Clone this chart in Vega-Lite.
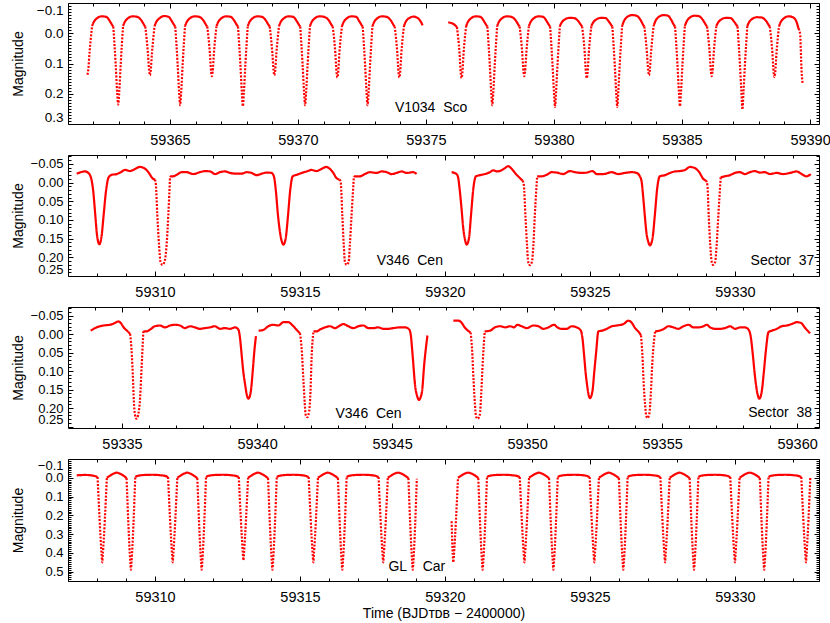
{
"$schema":"https://vega.github.io/schema/vega-lite/v6.json",
"padding":{"left":10,"top":2,"right":5,"bottom":0},
"autosize":{"type":"pad"},
"bounds":"flush",
"spacing":31,
"config":{
 "view":{"stroke":"#000","strokeWidth":1},
 "axis":{"domain":false,"grid":false,"tickColor":"#000","tickWidth":1,"labelColor":"#000","labelFont":"Liberation Sans","labelFontSize":14,"titleFont":"Liberation Sans, DejaVu Sans","titleFontSize":14,"titleFontWeight":"normal","titleColor":"#000","labelOverlap":false,"labelBound":false,"labelFlush":false},
 "axisBottom":{"labelPadding":14,"labelFontSize":14.5},
 "axisLeft":{"labelPadding":10},
 "axisTop":{"labels":false},
 "axisRight":{"labels":false}
},
"datasets":{
"p1":[
{"t":59361.78,"m":0.137,"g":1,"k":"e"},{"t":59361.81,"m":0.122,"g":1,"k":"e"},{"t":59361.86,"m":0.065,"g":1,"k":"e"},{"t":59361.96,"m":-0.024,"g":1,"k":"e"},
{"t":59361.96,"m":-0.024,"g":2,"k":"o"},{"t":59362.02,"m":-0.036,"g":2,"k":"o"},{"t":59362.16,"m":-0.05,"g":2,"k":"o"},{"t":59362.34,"m":-0.056,"g":2,"k":"o"},{"t":59362.52,"m":-0.054,"g":2,"k":"o"},{"t":59362.64,"m":-0.042,"g":2,"k":"o"},{"t":59362.74,"m":-0.028,"g":2,"k":"o"},{"t":59362.79,"m":-0.022,"g":2,"k":"o"},
{"t":59362.79,"m":-0.022,"g":3,"k":"e"},{"t":59362.88,"m":0.1,"g":3,"k":"e"},{"t":59362.94,"m":0.195,"g":3,"k":"e"},{"t":59362.98,"m":0.236,"g":3,"k":"e"},{"t":59363.02,"m":0.195,"g":3,"k":"e"},{"t":59363.08,"m":0.1,"g":3,"k":"e"},{"t":59363.17,"m":-0.024,"g":3,"k":"e"},
{"t":59363.17,"m":-0.024,"g":4,"k":"o"},{"t":59363.23,"m":-0.036,"g":4,"k":"o"},{"t":59363.37,"m":-0.05,"g":4,"k":"o"},{"t":59363.55,"m":-0.056,"g":4,"k":"o"},{"t":59363.73,"m":-0.054,"g":4,"k":"o"},{"t":59363.89,"m":-0.042,"g":4,"k":"o"},{"t":59363.99,"m":-0.028,"g":4,"k":"o"},{"t":59364.04,"m":-0.022,"g":4,"k":"o"},
{"t":59364.04,"m":-0.022,"g":5,"k":"e"},{"t":59364.14,"m":0.065,"g":5,"k":"e"},{"t":59364.19,"m":0.124,"g":5,"k":"e"},{"t":59364.22,"m":0.139,"g":5,"k":"e"},{"t":59364.25,"m":0.124,"g":5,"k":"e"},{"t":59364.3,"m":0.065,"g":5,"k":"e"},{"t":59364.4,"m":-0.024,"g":5,"k":"e"},
{"t":59364.4,"m":-0.024,"g":6,"k":"o"},{"t":59364.46,"m":-0.036,"g":6,"k":"o"},{"t":59364.6,"m":-0.05,"g":6,"k":"o"},{"t":59364.78,"m":-0.057,"g":6,"k":"o"},{"t":59364.96,"m":-0.054,"g":6,"k":"o"},{"t":59365.06,"m":-0.042,"g":6,"k":"o"},{"t":59365.16,"m":-0.028,"g":6,"k":"o"},{"t":59365.21,"m":-0.022,"g":6,"k":"o"},
{"t":59365.21,"m":-0.022,"g":7,"k":"e"},{"t":59365.3,"m":0.1,"g":7,"k":"e"},{"t":59365.36,"m":0.195,"g":7,"k":"e"},{"t":59365.4,"m":0.238,"g":7,"k":"e"},{"t":59365.44,"m":0.195,"g":7,"k":"e"},{"t":59365.5,"m":0.1,"g":7,"k":"e"},{"t":59365.59,"m":-0.024,"g":7,"k":"e"},
{"t":59365.59,"m":-0.024,"g":8,"k":"o"},{"t":59365.65,"m":-0.036,"g":8,"k":"o"},{"t":59365.79,"m":-0.05,"g":8,"k":"o"},{"t":59365.97,"m":-0.056,"g":8,"k":"o"},{"t":59366.15,"m":-0.054,"g":8,"k":"o"},{"t":59366.31,"m":-0.042,"g":8,"k":"o"},{"t":59366.41,"m":-0.028,"g":8,"k":"o"},{"t":59366.46,"m":-0.022,"g":8,"k":"o"},
{"t":59366.46,"m":-0.022,"g":9,"k":"e"},{"t":59366.56,"m":0.065,"g":9,"k":"e"},{"t":59366.61,"m":0.127,"g":9,"k":"e"},{"t":59366.64,"m":0.142,"g":9,"k":"e"},{"t":59366.67,"m":0.127,"g":9,"k":"e"},{"t":59366.72,"m":0.065,"g":9,"k":"e"},{"t":59366.82,"m":-0.024,"g":9,"k":"e"},
{"t":59366.82,"m":-0.024,"g":10,"k":"o"},{"t":59366.88,"m":-0.036,"g":10,"k":"o"},{"t":59367.02,"m":-0.05,"g":10,"k":"o"},{"t":59367.2,"m":-0.056,"g":10,"k":"o"},{"t":59367.38,"m":-0.054,"g":10,"k":"o"},{"t":59367.51,"m":-0.042,"g":10,"k":"o"},{"t":59367.61,"m":-0.028,"g":10,"k":"o"},{"t":59367.66,"m":-0.022,"g":10,"k":"o"},
{"t":59367.66,"m":-0.022,"g":11,"k":"e"},{"t":59367.75,"m":0.1,"g":11,"k":"e"},{"t":59367.81,"m":0.195,"g":11,"k":"e"},{"t":59367.85,"m":0.241,"g":11,"k":"e"},{"t":59367.89,"m":0.195,"g":11,"k":"e"},{"t":59367.95,"m":0.1,"g":11,"k":"e"},{"t":59368.04,"m":-0.024,"g":11,"k":"e"},
{"t":59368.04,"m":-0.024,"g":12,"k":"o"},{"t":59368.1,"m":-0.036,"g":12,"k":"o"},{"t":59368.24,"m":-0.05,"g":12,"k":"o"},{"t":59368.42,"m":-0.056,"g":12,"k":"o"},{"t":59368.6,"m":-0.054,"g":12,"k":"o"},{"t":59368.75,"m":-0.042,"g":12,"k":"o"},{"t":59368.85,"m":-0.028,"g":12,"k":"o"},{"t":59368.9,"m":-0.022,"g":12,"k":"o"},
{"t":59368.9,"m":-0.022,"g":13,"k":"e"},{"t":59369.0,"m":0.065,"g":13,"k":"e"},{"t":59369.05,"m":0.124,"g":13,"k":"e"},{"t":59369.08,"m":0.139,"g":13,"k":"e"},{"t":59369.11,"m":0.124,"g":13,"k":"e"},{"t":59369.16,"m":0.065,"g":13,"k":"e"},{"t":59369.26,"m":-0.024,"g":13,"k":"e"},
{"t":59369.26,"m":-0.024,"g":14,"k":"o"},{"t":59369.32,"m":-0.036,"g":14,"k":"o"},{"t":59369.46,"m":-0.05,"g":14,"k":"o"},{"t":59369.64,"m":-0.056,"g":14,"k":"o"},{"t":59369.82,"m":-0.054,"g":14,"k":"o"},{"t":59369.94,"m":-0.042,"g":14,"k":"o"},{"t":59370.04,"m":-0.028,"g":14,"k":"o"},{"t":59370.09,"m":-0.022,"g":14,"k":"o"},
{"t":59370.09,"m":-0.022,"g":15,"k":"e"},{"t":59370.18,"m":0.1,"g":15,"k":"e"},{"t":59370.24,"m":0.195,"g":15,"k":"e"},{"t":59370.28,"m":0.238,"g":15,"k":"e"},{"t":59370.32,"m":0.195,"g":15,"k":"e"},{"t":59370.38,"m":0.1,"g":15,"k":"e"},{"t":59370.47,"m":-0.024,"g":15,"k":"e"},
{"t":59370.47,"m":-0.024,"g":16,"k":"o"},{"t":59370.53,"m":-0.036,"g":16,"k":"o"},{"t":59370.67,"m":-0.05,"g":16,"k":"o"},{"t":59370.85,"m":-0.056,"g":16,"k":"o"},{"t":59371.03,"m":-0.054,"g":16,"k":"o"},{"t":59371.21,"m":-0.042,"g":16,"k":"o"},{"t":59371.31,"m":-0.028,"g":16,"k":"o"},{"t":59371.36,"m":-0.022,"g":16,"k":"o"},
{"t":59371.36,"m":-0.022,"g":17,"k":"e"},{"t":59371.46,"m":0.065,"g":17,"k":"e"},{"t":59371.51,"m":0.131,"g":17,"k":"e"},{"t":59371.54,"m":0.146,"g":17,"k":"e"},{"t":59371.57,"m":0.131,"g":17,"k":"e"},{"t":59371.62,"m":0.065,"g":17,"k":"e"},{"t":59371.72,"m":-0.024,"g":17,"k":"e"},
{"t":59371.72,"m":-0.024,"g":18,"k":"o"},{"t":59371.78,"m":-0.036,"g":18,"k":"o"},{"t":59371.92,"m":-0.05,"g":18,"k":"o"},{"t":59372.1,"m":-0.056,"g":18,"k":"o"},{"t":59372.28,"m":-0.054,"g":18,"k":"o"},{"t":59372.38,"m":-0.042,"g":18,"k":"o"},{"t":59372.48,"m":-0.028,"g":18,"k":"o"},{"t":59372.53,"m":-0.022,"g":18,"k":"o"},
{"t":59372.53,"m":-0.022,"g":19,"k":"e"},{"t":59372.62,"m":0.1,"g":19,"k":"e"},{"t":59372.68,"m":0.195,"g":19,"k":"e"},{"t":59372.72,"m":0.238,"g":19,"k":"e"},{"t":59372.76,"m":0.195,"g":19,"k":"e"},{"t":59372.82,"m":0.1,"g":19,"k":"e"},{"t":59372.91,"m":-0.024,"g":19,"k":"e"},
{"t":59372.91,"m":-0.024,"g":20,"k":"o"},{"t":59372.97,"m":-0.036,"g":20,"k":"o"},{"t":59373.11,"m":-0.05,"g":20,"k":"o"},{"t":59373.29,"m":-0.056,"g":20,"k":"o"},{"t":59373.47,"m":-0.054,"g":20,"k":"o"},{"t":59373.63,"m":-0.042,"g":20,"k":"o"},{"t":59373.73,"m":-0.028,"g":20,"k":"o"},{"t":59373.78,"m":-0.022,"g":20,"k":"o"},
{"t":59373.78,"m":-0.022,"g":21,"k":"e"},{"t":59373.88,"m":0.065,"g":21,"k":"e"},{"t":59373.93,"m":0.131,"g":21,"k":"e"},{"t":59373.96,"m":0.146,"g":21,"k":"e"},{"t":59373.99,"m":0.131,"g":21,"k":"e"},{"t":59374.04,"m":0.065,"g":21,"k":"e"},{"t":59374.14,"m":-0.024,"g":21,"k":"e"},
{"t":59374.14,"m":-0.024,"g":22,"k":"o"},{"t":59374.2,"m":-0.036,"g":22,"k":"o"},{"t":59374.34,"m":-0.05,"g":22,"k":"o"},{"t":59374.52,"m":-0.055,"g":22,"k":"o"},{"t":59374.68,"m":-0.05,"g":22,"k":"o"},{"t":59374.8,"m":-0.038,"g":22,"k":"o"},{"t":59374.87,"m":-0.026,"g":22,"k":"o"},
{"t":59375.87,"m":-0.036,"g":23,"k":"o"},{"t":59375.98,"m":-0.034,"g":23,"k":"o"},{"t":59376.1,"m":-0.029,"g":23,"k":"o"},{"t":59376.21,"m":-0.02,"g":23,"k":"o"},
{"t":59376.21,"m":-0.02,"g":24,"k":"e"},{"t":59376.31,"m":0.065,"g":24,"k":"e"},{"t":59376.36,"m":0.133,"g":24,"k":"e"},{"t":59376.39,"m":0.148,"g":24,"k":"e"},{"t":59376.42,"m":0.133,"g":24,"k":"e"},{"t":59376.47,"m":0.065,"g":24,"k":"e"},{"t":59376.57,"m":-0.024,"g":24,"k":"e"},
{"t":59376.57,"m":-0.024,"g":25,"k":"o"},{"t":59376.63,"m":-0.036,"g":25,"k":"o"},{"t":59376.77,"m":-0.05,"g":25,"k":"o"},{"t":59376.95,"m":-0.056,"g":25,"k":"o"},{"t":59377.13,"m":-0.054,"g":25,"k":"o"},{"t":59377.25,"m":-0.042,"g":25,"k":"o"},{"t":59377.35,"m":-0.028,"g":25,"k":"o"},{"t":59377.4,"m":-0.022,"g":25,"k":"o"},
{"t":59377.4,"m":-0.022,"g":26,"k":"e"},{"t":59377.49,"m":0.1,"g":26,"k":"e"},{"t":59377.55,"m":0.195,"g":26,"k":"e"},{"t":59377.59,"m":0.238,"g":26,"k":"e"},{"t":59377.63,"m":0.195,"g":26,"k":"e"},{"t":59377.69,"m":0.1,"g":26,"k":"e"},{"t":59377.78,"m":-0.024,"g":26,"k":"e"},
{"t":59377.78,"m":-0.024,"g":27,"k":"o"},{"t":59377.84,"m":-0.036,"g":27,"k":"o"},{"t":59377.98,"m":-0.05,"g":27,"k":"o"},{"t":59378.16,"m":-0.056,"g":27,"k":"o"},{"t":59378.34,"m":-0.054,"g":27,"k":"o"},{"t":59378.51,"m":-0.042,"g":27,"k":"o"},{"t":59378.61,"m":-0.028,"g":27,"k":"o"},{"t":59378.66,"m":-0.022,"g":27,"k":"o"},
{"t":59378.66,"m":-0.022,"g":28,"k":"e"},{"t":59378.76,"m":0.065,"g":28,"k":"e"},{"t":59378.81,"m":0.127,"g":28,"k":"e"},{"t":59378.84,"m":0.142,"g":28,"k":"e"},{"t":59378.87,"m":0.127,"g":28,"k":"e"},{"t":59378.92,"m":0.065,"g":28,"k":"e"},{"t":59379.02,"m":-0.024,"g":28,"k":"e"},
{"t":59379.02,"m":-0.024,"g":29,"k":"o"},{"t":59379.08,"m":-0.036,"g":29,"k":"o"},{"t":59379.22,"m":-0.05,"g":29,"k":"o"},{"t":59379.4,"m":-0.056,"g":29,"k":"o"},{"t":59379.58,"m":-0.054,"g":29,"k":"o"},{"t":59379.7,"m":-0.042,"g":29,"k":"o"},{"t":59379.8,"m":-0.028,"g":29,"k":"o"},{"t":59379.85,"m":-0.022,"g":29,"k":"o"},
{"t":59379.85,"m":-0.022,"g":30,"k":"e"},{"t":59379.94,"m":0.1,"g":30,"k":"e"},{"t":59380.0,"m":0.195,"g":30,"k":"e"},{"t":59380.04,"m":0.244,"g":30,"k":"e"},{"t":59380.08,"m":0.195,"g":30,"k":"e"},{"t":59380.14,"m":0.1,"g":30,"k":"e"},{"t":59380.23,"m":-0.024,"g":30,"k":"e"},
{"t":59380.23,"m":-0.024,"g":31,"k":"o"},{"t":59380.29,"m":-0.034,"g":31,"k":"o"},{"t":59380.43,"m":-0.046,"g":31,"k":"o"},{"t":59380.61,"m":-0.051,"g":31,"k":"o"},{"t":59380.79,"m":-0.05,"g":31,"k":"o"},{"t":59380.95,"m":-0.04,"g":31,"k":"o"},{"t":59381.05,"m":-0.028,"g":31,"k":"o"},{"t":59381.1,"m":-0.022,"g":31,"k":"o"},
{"t":59381.1,"m":-0.022,"g":32,"k":"e"},{"t":59381.2,"m":0.065,"g":32,"k":"e"},{"t":59381.25,"m":0.133,"g":32,"k":"e"},{"t":59381.28,"m":0.148,"g":32,"k":"e"},{"t":59381.31,"m":0.133,"g":32,"k":"e"},{"t":59381.36,"m":0.065,"g":32,"k":"e"},{"t":59381.46,"m":-0.024,"g":32,"k":"e"},
{"t":59381.46,"m":-0.024,"g":33,"k":"o"},{"t":59381.52,"m":-0.034,"g":33,"k":"o"},{"t":59381.66,"m":-0.046,"g":33,"k":"o"},{"t":59381.84,"m":-0.051,"g":33,"k":"o"},{"t":59382.02,"m":-0.05,"g":33,"k":"o"},{"t":59382.13,"m":-0.04,"g":33,"k":"o"},{"t":59382.23,"m":-0.028,"g":33,"k":"o"},{"t":59382.28,"m":-0.022,"g":33,"k":"o"},
{"t":59382.28,"m":-0.022,"g":34,"k":"e"},{"t":59382.37,"m":0.1,"g":34,"k":"e"},{"t":59382.43,"m":0.195,"g":34,"k":"e"},{"t":59382.47,"m":0.244,"g":34,"k":"e"},{"t":59382.51,"m":0.195,"g":34,"k":"e"},{"t":59382.57,"m":0.1,"g":34,"k":"e"},{"t":59382.66,"m":-0.024,"g":34,"k":"e"},
{"t":59382.66,"m":-0.024,"g":35,"k":"o"},{"t":59382.72,"m":-0.038,"g":35,"k":"o"},{"t":59382.86,"m":-0.054,"g":35,"k":"o"},{"t":59383.04,"m":-0.06,"g":35,"k":"o"},{"t":59383.22,"m":-0.058,"g":35,"k":"o"},{"t":59383.38,"m":-0.044,"g":35,"k":"o"},{"t":59383.48,"m":-0.028,"g":35,"k":"o"},{"t":59383.53,"m":-0.022,"g":35,"k":"o"},
{"t":59383.53,"m":-0.022,"g":36,"k":"e"},{"t":59383.63,"m":0.065,"g":36,"k":"e"},{"t":59383.68,"m":0.124,"g":36,"k":"e"},{"t":59383.71,"m":0.139,"g":36,"k":"e"},{"t":59383.74,"m":0.124,"g":36,"k":"e"},{"t":59383.79,"m":0.065,"g":36,"k":"e"},{"t":59383.89,"m":-0.024,"g":36,"k":"e"},
{"t":59383.89,"m":-0.024,"g":37,"k":"o"},{"t":59383.95,"m":-0.038,"g":37,"k":"o"},{"t":59384.09,"m":-0.054,"g":37,"k":"o"},{"t":59384.27,"m":-0.06,"g":37,"k":"o"},{"t":59384.45,"m":-0.058,"g":37,"k":"o"},{"t":59384.58,"m":-0.044,"g":37,"k":"o"},{"t":59384.68,"m":-0.028,"g":37,"k":"o"},{"t":59384.73,"m":-0.022,"g":37,"k":"o"},
{"t":59384.73,"m":-0.022,"g":38,"k":"e"},{"t":59384.82,"m":0.1,"g":38,"k":"e"},{"t":59384.88,"m":0.195,"g":38,"k":"e"},{"t":59384.92,"m":0.241,"g":38,"k":"e"},{"t":59384.96,"m":0.195,"g":38,"k":"e"},{"t":59385.02,"m":0.1,"g":38,"k":"e"},{"t":59385.11,"m":-0.024,"g":38,"k":"e"},
{"t":59385.11,"m":-0.024,"g":39,"k":"o"},{"t":59385.17,"m":-0.037,"g":39,"k":"o"},{"t":59385.31,"m":-0.052,"g":39,"k":"o"},{"t":59385.49,"m":-0.058,"g":39,"k":"o"},{"t":59385.67,"m":-0.056,"g":39,"k":"o"},{"t":59385.83,"m":-0.042,"g":39,"k":"o"},{"t":59385.93,"m":-0.028,"g":39,"k":"o"},{"t":59385.98,"m":-0.022,"g":39,"k":"o"},
{"t":59385.98,"m":-0.022,"g":40,"k":"e"},{"t":59386.08,"m":0.065,"g":40,"k":"e"},{"t":59386.13,"m":0.127,"g":40,"k":"e"},{"t":59386.16,"m":0.142,"g":40,"k":"e"},{"t":59386.19,"m":0.127,"g":40,"k":"e"},{"t":59386.24,"m":0.065,"g":40,"k":"e"},{"t":59386.34,"m":-0.024,"g":40,"k":"e"},
{"t":59386.34,"m":-0.024,"g":41,"k":"o"},{"t":59386.4,"m":-0.034,"g":41,"k":"o"},{"t":59386.54,"m":-0.046,"g":41,"k":"o"},{"t":59386.72,"m":-0.051,"g":41,"k":"o"},{"t":59386.9,"m":-0.05,"g":41,"k":"o"},{"t":59387.02,"m":-0.04,"g":41,"k":"o"},{"t":59387.12,"m":-0.028,"g":41,"k":"o"},{"t":59387.17,"m":-0.022,"g":41,"k":"o"},
{"t":59387.17,"m":-0.022,"g":42,"k":"e"},{"t":59387.26,"m":0.1,"g":42,"k":"e"},{"t":59387.32,"m":0.195,"g":42,"k":"e"},{"t":59387.36,"m":0.252,"g":42,"k":"e"},{"t":59387.4,"m":0.195,"g":42,"k":"e"},{"t":59387.46,"m":0.1,"g":42,"k":"e"},{"t":59387.55,"m":-0.024,"g":42,"k":"e"},
{"t":59387.55,"m":-0.024,"g":43,"k":"o"},{"t":59387.61,"m":-0.035,"g":43,"k":"o"},{"t":59387.75,"m":-0.048,"g":43,"k":"o"},{"t":59387.93,"m":-0.053,"g":43,"k":"o"},{"t":59388.11,"m":-0.052,"g":43,"k":"o"},{"t":59388.28,"m":-0.041,"g":43,"k":"o"},{"t":59388.38,"m":-0.028,"g":43,"k":"o"},{"t":59388.43,"m":-0.022,"g":43,"k":"o"},
{"t":59388.43,"m":-0.022,"g":44,"k":"e"},{"t":59388.53,"m":0.065,"g":44,"k":"e"},{"t":59388.58,"m":0.13,"g":44,"k":"e"},{"t":59388.61,"m":0.145,"g":44,"k":"e"},{"t":59388.64,"m":0.13,"g":44,"k":"e"},{"t":59388.69,"m":0.065,"g":44,"k":"e"},{"t":59388.79,"m":-0.024,"g":44,"k":"e"},
{"t":59388.79,"m":-0.024,"g":45,"k":"o"},{"t":59388.85,"m":-0.036,"g":45,"k":"o"},{"t":59388.99,"m":-0.05,"g":45,"k":"o"},{"t":59389.17,"m":-0.056,"g":45,"k":"o"},{"t":59389.35,"m":-0.052,"g":45,"k":"o"},{"t":59389.47,"m":-0.038,"g":45,"k":"o"},{"t":59389.55,"m":-0.015,"g":45,"k":"o"},
{"t":59389.55,"m":-0.015,"g":46,"k":"e"},{"t":59389.61,"m":0.0,"g":46,"k":"e"},{"t":59389.67,"m":0.125,"g":46,"k":"e"},{"t":59389.71,"m":0.167,"g":46,"k":"e"}
],
"p2":[
{"t":59307.3,"m":-0.024,"g":1,"k":"o"},{"t":59307.59,"m":-0.03,"g":1,"k":"o"},{"t":59307.7,"m":-0.026,"g":1,"k":"o"},{"t":59307.8,"m":-0.011,"g":1,"k":"o"},{"t":59307.87,"m":0.023,"g":1,"k":"o"},{"t":59307.94,"m":0.086,"g":1,"k":"o"},{"t":59308.0,"m":0.14,"g":1,"k":"o"},{"t":59308.08,"m":0.165,"g":1,"k":"o"},{"t":59308.16,"m":0.142,"g":1,"k":"o"},{"t":59308.23,"m":0.086,"g":1,"k":"o"},{"t":59308.31,"m":0.023,"g":1,"k":"o"},{"t":59308.4,"m":-0.014,"g":1,"k":"o"},{"t":59308.51,"m":-0.021,"g":1,"k":"o"},{"t":59308.68,"m":-0.023,"g":1,"k":"o"},{"t":59308.82,"m":-0.028,"g":1,"k":"o"},{"t":59308.97,"m":-0.034,"g":1,"k":"o"},{"t":59309.14,"m":-0.031,"g":1,"k":"o"},{"t":59309.25,"m":-0.034,"g":1,"k":"o"},{"t":59309.48,"m":-0.042,"g":1,"k":"o"},{"t":59309.66,"m":-0.037,"g":1,"k":"o"},{"t":59309.79,"m":-0.026,"g":1,"k":"o"},{"t":59309.91,"m":-0.012,"g":1,"k":"o"},{"t":59310.0,"m":-0.008,"g":1,"k":"o"},
{"t":59310.0,"m":-0.008,"g":2,"k":"e"},{"t":59310.03,"m":0.005,"g":2,"k":"e"},{"t":59310.08,"m":0.086,"g":2,"k":"e"},{"t":59310.14,"m":0.167,"g":2,"k":"e"},{"t":59310.19,"m":0.212,"g":2,"k":"e"},{"t":59310.26,"m":0.22,"g":2,"k":"e"},{"t":59310.33,"m":0.212,"g":2,"k":"e"},{"t":59310.4,"m":0.167,"g":2,"k":"e"},{"t":59310.46,"m":0.086,"g":2,"k":"e"},{"t":59310.52,"m":-0.017,"g":2,"k":"e"},
{"t":59310.52,"m":-0.017,"g":3,"k":"o"},{"t":59310.63,"m":-0.017,"g":3,"k":"o"},{"t":59310.75,"m":-0.021,"g":3,"k":"o"},{"t":59310.92,"m":-0.028,"g":3,"k":"o"},{"t":59311.09,"m":-0.028,"g":3,"k":"o"},{"t":59311.32,"m":-0.023,"g":3,"k":"o"},{"t":59311.55,"m":-0.028,"g":3,"k":"o"},{"t":59311.72,"m":-0.031,"g":3,"k":"o"},{"t":59311.9,"m":-0.03,"g":3,"k":"o"},{"t":59312.07,"m":-0.023,"g":3,"k":"o"},{"t":59312.24,"m":-0.028,"g":3,"k":"o"},{"t":59312.41,"m":-0.03,"g":3,"k":"o"},{"t":59312.59,"m":-0.026,"g":3,"k":"o"},{"t":59312.82,"m":-0.024,"g":3,"k":"o"},{"t":59312.99,"m":-0.024,"g":3,"k":"o"},{"t":59313.16,"m":-0.028,"g":3,"k":"o"},{"t":59313.33,"m":-0.026,"g":3,"k":"o"},{"t":59313.51,"m":-0.02,"g":3,"k":"o"},{"t":59313.68,"m":-0.024,"g":3,"k":"o"},{"t":59313.85,"m":-0.027,"g":3,"k":"o"},{"t":59314.02,"m":-0.026,"g":3,"k":"o"},{"t":59314.1,"m":-0.017,"g":3,"k":"o"},{"t":59314.17,"m":0.023,"g":3,"k":"o"},{"t":59314.24,"m":0.086,"g":3,"k":"o"},{"t":59314.35,"m":0.15,"g":3,"k":"o"},{"t":59314.43,"m":0.166,"g":3,"k":"o"},{"t":59314.51,"m":0.148,"g":3,"k":"o"},{"t":59314.59,"m":0.086,"g":3,"k":"o"},{"t":59314.66,"m":0.023,"g":3,"k":"o"},{"t":59314.75,"m":-0.017,"g":3,"k":"o"},{"t":59314.89,"m":-0.021,"g":3,"k":"o"},{"t":59315.06,"m":-0.026,"g":3,"k":"o"},{"t":59315.23,"m":-0.03,"g":3,"k":"o"},{"t":59315.4,"m":-0.034,"g":3,"k":"o"},{"t":59315.57,"m":-0.031,"g":3,"k":"o"},{"t":59315.75,"m":-0.037,"g":3,"k":"o"},{"t":59315.9,"m":-0.042,"g":3,"k":"o"},{"t":59316.03,"m":-0.037,"g":3,"k":"o"},{"t":59316.15,"m":-0.026,"g":3,"k":"o"},{"t":59316.24,"m":-0.014,"g":3,"k":"o"},{"t":59316.36,"m":-0.008,"g":3,"k":"o"},
{"t":59316.36,"m":-0.008,"g":4,"k":"e"},{"t":59316.4,"m":-0.004,"g":4,"k":"e"},{"t":59316.46,"m":0.086,"g":4,"k":"e"},{"t":59316.51,"m":0.167,"g":4,"k":"e"},{"t":59316.55,"m":0.212,"g":4,"k":"e"},{"t":59316.61,"m":0.22,"g":4,"k":"e"},{"t":59316.68,"m":0.212,"g":4,"k":"e"},{"t":59316.72,"m":0.167,"g":4,"k":"e"},{"t":59316.78,"m":0.086,"g":4,"k":"e"},{"t":59316.86,"m":-0.017,"g":4,"k":"e"},
{"t":59316.86,"m":-0.017,"g":5,"k":"o"},{"t":59317.07,"m":-0.017,"g":5,"k":"o"},{"t":59317.24,"m":-0.023,"g":5,"k":"o"},{"t":59317.41,"m":-0.028,"g":5,"k":"o"},{"t":59317.64,"m":-0.026,"g":5,"k":"o"},{"t":59317.82,"m":-0.03,"g":5,"k":"o"},{"t":59317.99,"m":-0.028,"g":5,"k":"o"},{"t":59318.16,"m":-0.023,"g":5,"k":"o"},{"t":59318.33,"m":-0.026,"g":5,"k":"o"},{"t":59318.51,"m":-0.03,"g":5,"k":"o"},{"t":59318.68,"m":-0.026,"g":5,"k":"o"},{"t":59318.91,"m":-0.028,"g":5,"k":"o"},{"t":59319.02,"m":-0.023,"g":5,"k":"o"},
{"t":59320.23,"m":-0.028,"g":6,"k":"o"},{"t":59320.4,"m":-0.023,"g":6,"k":"o"},{"t":59320.46,"m":-0.012,"g":6,"k":"o"},{"t":59320.49,"m":0.006,"g":6,"k":"o"},{"t":59320.57,"m":0.068,"g":6,"k":"o"},{"t":59320.63,"m":0.121,"g":6,"k":"o"},{"t":59320.69,"m":0.152,"g":6,"k":"o"},{"t":59320.75,"m":0.166,"g":6,"k":"o"},{"t":59320.83,"m":0.148,"g":6,"k":"o"},{"t":59320.9,"m":0.086,"g":6,"k":"o"},{"t":59320.98,"m":0.015,"g":6,"k":"o"},{"t":59321.07,"m":-0.017,"g":6,"k":"o"},{"t":59321.21,"m":-0.02,"g":6,"k":"o"},{"t":59321.38,"m":-0.023,"g":6,"k":"o"},{"t":59321.55,"m":-0.028,"g":6,"k":"o"},{"t":59321.67,"m":-0.033,"g":6,"k":"o"},{"t":59321.8,"m":-0.03,"g":6,"k":"o"},{"t":59321.95,"m":-0.033,"g":6,"k":"o"},{"t":59322.07,"m":-0.039,"g":6,"k":"o"},{"t":59322.18,"m":-0.044,"g":6,"k":"o"},{"t":59322.3,"m":-0.037,"g":6,"k":"o"},{"t":59322.45,"m":-0.023,"g":6,"k":"o"},{"t":59322.59,"m":-0.012,"g":6,"k":"o"},{"t":59322.68,"m":-0.005,"g":6,"k":"o"},
{"t":59322.68,"m":-0.005,"g":7,"k":"e"},{"t":59322.72,"m":0.006,"g":7,"k":"e"},{"t":59322.78,"m":0.095,"g":7,"k":"e"},{"t":59322.83,"m":0.167,"g":7,"k":"e"},{"t":59322.87,"m":0.212,"g":7,"k":"e"},{"t":59322.93,"m":0.221,"g":7,"k":"e"},{"t":59323.0,"m":0.212,"g":7,"k":"e"},{"t":59323.05,"m":0.167,"g":7,"k":"e"},{"t":59323.1,"m":0.086,"g":7,"k":"e"},{"t":59323.18,"m":-0.017,"g":7,"k":"e"},
{"t":59323.18,"m":-0.017,"g":8,"k":"o"},{"t":59323.33,"m":-0.017,"g":8,"k":"o"},{"t":59323.51,"m":-0.021,"g":8,"k":"o"},{"t":59323.68,"m":-0.028,"g":8,"k":"o"},{"t":59323.85,"m":-0.027,"g":8,"k":"o"},{"t":59324.08,"m":-0.023,"g":8,"k":"o"},{"t":59324.31,"m":-0.031,"g":8,"k":"o"},{"t":59324.48,"m":-0.028,"g":8,"k":"o"},{"t":59324.71,"m":-0.026,"g":8,"k":"o"},{"t":59324.89,"m":-0.027,"g":8,"k":"o"},{"t":59325.09,"m":-0.031,"g":8,"k":"o"},{"t":59325.23,"m":-0.023,"g":8,"k":"o"},{"t":59325.46,"m":-0.023,"g":8,"k":"o"},{"t":59325.75,"m":-0.028,"g":8,"k":"o"},{"t":59325.98,"m":-0.023,"g":8,"k":"o"},{"t":59326.21,"m":-0.026,"g":8,"k":"o"},{"t":59326.44,"m":-0.028,"g":8,"k":"o"},{"t":59326.61,"m":-0.026,"g":8,"k":"o"},{"t":59326.72,"m":-0.017,"g":8,"k":"o"},{"t":59326.78,"m":-0.004,"g":8,"k":"o"},{"t":59326.84,"m":0.041,"g":8,"k":"o"},{"t":59326.9,"m":0.095,"g":8,"k":"o"},{"t":59326.95,"m":0.135,"g":8,"k":"o"},{"t":59327.01,"m":0.158,"g":8,"k":"o"},{"t":59327.07,"m":0.168,"g":8,"k":"o"},{"t":59327.16,"m":0.148,"g":8,"k":"o"},{"t":59327.24,"m":0.086,"g":8,"k":"o"},{"t":59327.32,"m":0.015,"g":8,"k":"o"},{"t":59327.41,"m":-0.017,"g":8,"k":"o"},{"t":59327.59,"m":-0.02,"g":8,"k":"o"},{"t":59327.76,"m":-0.026,"g":8,"k":"o"},{"t":59327.93,"m":-0.03,"g":8,"k":"o"},{"t":59328.1,"m":-0.031,"g":8,"k":"o"},{"t":59328.28,"m":-0.034,"g":8,"k":"o"},{"t":59328.45,"m":-0.042,"g":8,"k":"o"},{"t":59328.62,"m":-0.039,"g":8,"k":"o"},{"t":59328.77,"m":-0.028,"g":8,"k":"o"},{"t":59328.91,"m":-0.01,"g":8,"k":"o"},{"t":59329.0,"m":-0.006,"g":8,"k":"o"},
{"t":59329.0,"m":-0.006,"g":9,"k":"e"},{"t":59329.05,"m":0.006,"g":9,"k":"e"},{"t":59329.1,"m":0.095,"g":9,"k":"e"},{"t":59329.15,"m":0.167,"g":9,"k":"e"},{"t":59329.2,"m":0.212,"g":9,"k":"e"},{"t":59329.25,"m":0.22,"g":9,"k":"e"},{"t":59329.32,"m":0.212,"g":9,"k":"e"},{"t":59329.37,"m":0.167,"g":9,"k":"e"},{"t":59329.43,"m":0.086,"g":9,"k":"e"},{"t":59329.51,"m":-0.014,"g":9,"k":"e"},
{"t":59329.51,"m":-0.014,"g":10,"k":"o"},{"t":59329.66,"m":-0.017,"g":10,"k":"o"},{"t":59329.83,"m":-0.02,"g":10,"k":"o"},{"t":59330.0,"m":-0.026,"g":10,"k":"o"},{"t":59330.17,"m":-0.028,"g":10,"k":"o"},{"t":59330.34,"m":-0.023,"g":10,"k":"o"},{"t":59330.52,"m":-0.028,"g":10,"k":"o"},{"t":59330.69,"m":-0.031,"g":10,"k":"o"},{"t":59330.86,"m":-0.027,"g":10,"k":"o"},{"t":59331.03,"m":-0.028,"g":10,"k":"o"},{"t":59331.21,"m":-0.023,"g":10,"k":"o"},{"t":59331.44,"m":-0.026,"g":10,"k":"o"},{"t":59331.67,"m":-0.023,"g":10,"k":"o"},{"t":59331.9,"m":-0.026,"g":10,"k":"o"},{"t":59332.13,"m":-0.03,"g":10,"k":"o"},{"t":59332.3,"m":-0.023,"g":10,"k":"o"},{"t":59332.47,"m":-0.017,"g":10,"k":"o"},{"t":59332.62,"m":-0.023,"g":10,"k":"o"}
],
"p3":[
{"t":59333.84,"m":-0.009,"g":1,"k":"o"},{"t":59334.06,"m":-0.018,"g":1,"k":"o"},{"t":59334.31,"m":-0.023,"g":1,"k":"o"},{"t":59334.56,"m":-0.025,"g":1,"k":"o"},{"t":59334.74,"m":-0.03,"g":1,"k":"o"},{"t":59334.86,"m":-0.034,"g":1,"k":"o"},{"t":59334.95,"m":-0.03,"g":1,"k":"o"},{"t":59335.07,"m":-0.017,"g":1,"k":"o"},{"t":59335.2,"m":-0.008,"g":1,"k":"o"},{"t":59335.3,"m":0.0,"g":1,"k":"o"},
{"t":59335.3,"m":0.0,"g":2,"k":"e"},{"t":59335.33,"m":0.02,"g":2,"k":"e"},{"t":59335.4,"m":0.11,"g":2,"k":"e"},{"t":59335.44,"m":0.182,"g":2,"k":"e"},{"t":59335.48,"m":0.218,"g":2,"k":"e"},{"t":59335.54,"m":0.229,"g":2,"k":"e"},{"t":59335.6,"m":0.218,"g":2,"k":"e"},{"t":59335.67,"m":0.173,"g":2,"k":"e"},{"t":59335.73,"m":0.083,"g":2,"k":"e"},{"t":59335.79,"m":-0.007,"g":2,"k":"e"},
{"t":59335.79,"m":-0.007,"g":3,"k":"o"},{"t":59335.91,"m":-0.007,"g":3,"k":"o"},{"t":59336.04,"m":-0.012,"g":3,"k":"o"},{"t":59336.22,"m":-0.021,"g":3,"k":"o"},{"t":59336.41,"m":-0.023,"g":3,"k":"o"},{"t":59336.59,"m":-0.018,"g":3,"k":"o"},{"t":59336.78,"m":-0.023,"g":3,"k":"o"},{"t":59336.96,"m":-0.025,"g":3,"k":"o"},{"t":59337.15,"m":-0.023,"g":3,"k":"o"},{"t":59337.33,"m":-0.016,"g":3,"k":"o"},{"t":59337.52,"m":-0.021,"g":3,"k":"o"},{"t":59337.7,"m":-0.018,"g":3,"k":"o"},{"t":59337.89,"m":-0.014,"g":3,"k":"o"},{"t":59338.07,"m":-0.016,"g":3,"k":"o"},{"t":59338.26,"m":-0.018,"g":3,"k":"o"},{"t":59338.44,"m":-0.021,"g":3,"k":"o"},{"t":59338.63,"m":-0.014,"g":3,"k":"o"},{"t":59338.81,"m":-0.016,"g":3,"k":"o"},{"t":59339.0,"m":-0.014,"g":3,"k":"o"},{"t":59339.19,"m":-0.018,"g":3,"k":"o"},{"t":59339.31,"m":-0.012,"g":3,"k":"o"},{"t":59339.37,"m":0.011,"g":3,"k":"o"},{"t":59339.43,"m":0.056,"g":3,"k":"o"},{"t":59339.49,"m":0.101,"g":3,"k":"o"},{"t":59339.56,"m":0.137,"g":3,"k":"o"},{"t":59339.62,"m":0.164,"g":3,"k":"o"},{"t":59339.68,"m":0.175,"g":3,"k":"o"},{"t":59339.77,"m":0.155,"g":3,"k":"o"},{"t":59339.84,"m":0.101,"g":3,"k":"o"},{"t":59339.9,"m":0.047,"g":3,"k":"o"},{"t":59339.96,"m":0.006,"g":3,"k":"o"},
{"t":59340.06,"m":-0.009,"g":4,"k":"o"},{"t":59340.23,"m":-0.011,"g":4,"k":"o"},{"t":59340.42,"m":-0.021,"g":4,"k":"o"},{"t":59340.6,"m":-0.025,"g":4,"k":"o"},{"t":59340.79,"m":-0.023,"g":4,"k":"o"},{"t":59340.98,"m":-0.032,"g":4,"k":"o"},{"t":59341.16,"m":-0.032,"g":4,"k":"o"},{"t":59341.32,"m":-0.023,"g":4,"k":"o"},{"t":59341.47,"m":-0.011,"g":4,"k":"o"},{"t":59341.59,"m":-0.002,"g":4,"k":"o"},
{"t":59341.59,"m":-0.002,"g":5,"k":"e"},{"t":59341.65,"m":0.038,"g":5,"k":"e"},{"t":59341.72,"m":0.128,"g":5,"k":"e"},{"t":59341.77,"m":0.191,"g":5,"k":"e"},{"t":59341.8,"m":0.218,"g":5,"k":"e"},{"t":59341.86,"m":0.225,"g":5,"k":"e"},{"t":59341.93,"m":0.209,"g":5,"k":"e"},{"t":59341.98,"m":0.155,"g":5,"k":"e"},{"t":59342.02,"m":0.065,"g":5,"k":"e"},{"t":59342.09,"m":-0.007,"g":5,"k":"e"},
{"t":59342.09,"m":-0.007,"g":6,"k":"o"},{"t":59342.21,"m":-0.007,"g":6,"k":"o"},{"t":59342.33,"m":-0.012,"g":6,"k":"o"},{"t":59342.52,"m":-0.018,"g":6,"k":"o"},{"t":59342.7,"m":-0.021,"g":6,"k":"o"},{"t":59342.89,"m":-0.016,"g":6,"k":"o"},{"t":59343.07,"m":-0.023,"g":6,"k":"o"},{"t":59343.2,"m":-0.027,"g":6,"k":"o"},{"t":59343.38,"m":-0.021,"g":6,"k":"o"},{"t":59343.57,"m":-0.016,"g":6,"k":"o"},{"t":59343.75,"m":-0.021,"g":6,"k":"o"},{"t":59343.94,"m":-0.023,"g":6,"k":"o"},{"t":59344.12,"m":-0.016,"g":6,"k":"o"},{"t":59344.31,"m":-0.016,"g":6,"k":"o"},{"t":59344.49,"m":-0.018,"g":6,"k":"o"},{"t":59344.68,"m":-0.014,"g":6,"k":"o"},{"t":59344.86,"m":-0.014,"g":6,"k":"o"},{"t":59345.05,"m":-0.016,"g":6,"k":"o"},{"t":59345.3,"m":-0.018,"g":6,"k":"o"},{"t":59345.48,"m":-0.018,"g":6,"k":"o"},{"t":59345.64,"m":-0.012,"g":6,"k":"o"},{"t":59345.69,"m":0.001,"g":6,"k":"o"},{"t":59345.77,"m":0.065,"g":6,"k":"o"},{"t":59345.85,"m":0.137,"g":6,"k":"o"},{"t":59345.93,"m":0.168,"g":6,"k":"o"},{"t":59346.0,"m":0.178,"g":6,"k":"o"},{"t":59346.07,"m":0.168,"g":6,"k":"o"},{"t":59346.11,"m":0.155,"g":6,"k":"o"},{"t":59346.19,"m":0.083,"g":6,"k":"o"},{"t":59346.31,"m":0.004,"g":6,"k":"o"},
{"t":59347.27,"m":-0.036,"g":7,"k":"o"},{"t":59347.46,"m":-0.036,"g":7,"k":"o"},{"t":59347.58,"m":-0.03,"g":7,"k":"o"},{"t":59347.7,"m":-0.017,"g":7,"k":"o"},{"t":59347.83,"m":-0.008,"g":7,"k":"o"},{"t":59347.91,"m":-0.004,"g":7,"k":"o"},
{"t":59347.91,"m":-0.004,"g":8,"k":"e"},{"t":59347.96,"m":0.038,"g":8,"k":"e"},{"t":59348.02,"m":0.128,"g":8,"k":"e"},{"t":59348.07,"m":0.191,"g":8,"k":"e"},{"t":59348.11,"m":0.223,"g":8,"k":"e"},{"t":59348.17,"m":0.229,"g":8,"k":"e"},{"t":59348.25,"m":0.218,"g":8,"k":"e"},{"t":59348.3,"m":0.164,"g":8,"k":"e"},{"t":59348.36,"m":0.074,"g":8,"k":"e"},{"t":59348.43,"m":-0.007,"g":8,"k":"e"},
{"t":59348.43,"m":-0.007,"g":9,"k":"o"},{"t":59348.63,"m":-0.009,"g":9,"k":"o"},{"t":59348.81,"m":-0.018,"g":9,"k":"o"},{"t":59349.0,"m":-0.021,"g":9,"k":"o"},{"t":59349.19,"m":-0.018,"g":9,"k":"o"},{"t":59349.37,"m":-0.021,"g":9,"k":"o"},{"t":59349.52,"m":-0.018,"g":9,"k":"o"},{"t":59349.64,"m":-0.025,"g":9,"k":"o"},{"t":59349.8,"m":-0.021,"g":9,"k":"o"},{"t":59349.99,"m":-0.016,"g":9,"k":"o"},{"t":59350.23,"m":-0.023,"g":9,"k":"o"},{"t":59350.42,"m":-0.021,"g":9,"k":"o"},{"t":59350.6,"m":-0.014,"g":9,"k":"o"},{"t":59350.79,"m":-0.018,"g":9,"k":"o"},{"t":59351.0,"m":-0.025,"g":9,"k":"o"},{"t":59351.12,"m":-0.018,"g":9,"k":"o"},{"t":59351.28,"m":-0.014,"g":9,"k":"o"},{"t":59351.47,"m":-0.014,"g":9,"k":"o"},{"t":59351.65,"m":-0.021,"g":9,"k":"o"},{"t":59351.84,"m":-0.018,"g":9,"k":"o"},{"t":59351.99,"m":-0.009,"g":9,"k":"o"},{"t":59352.05,"m":0.011,"g":9,"k":"o"},{"t":59352.11,"m":0.056,"g":9,"k":"o"},{"t":59352.17,"m":0.106,"g":9,"k":"o"},{"t":59352.23,"m":0.142,"g":9,"k":"o"},{"t":59352.28,"m":0.165,"g":9,"k":"o"},{"t":59352.33,"m":0.173,"g":9,"k":"o"},{"t":59352.42,"m":0.155,"g":9,"k":"o"},{"t":59352.49,"m":0.101,"g":9,"k":"o"},{"t":59352.56,"m":0.047,"g":9,"k":"o"},{"t":59352.64,"m":-0.007,"g":9,"k":"o"},{"t":59352.77,"m":-0.009,"g":9,"k":"o"},{"t":59352.95,"m":-0.014,"g":9,"k":"o"},{"t":59353.14,"m":-0.021,"g":9,"k":"o"},{"t":59353.32,"m":-0.023,"g":9,"k":"o"},{"t":59353.57,"m":-0.027,"g":9,"k":"o"},{"t":59353.75,"m":-0.036,"g":9,"k":"o"},{"t":59353.88,"m":-0.03,"g":9,"k":"o"},{"t":59354.0,"m":-0.016,"g":9,"k":"o"},{"t":59354.16,"m":-0.003,"g":9,"k":"o"},{"t":59354.22,"m":0.004,"g":9,"k":"o"},
{"t":59354.22,"m":0.004,"g":10,"k":"e"},{"t":59354.27,"m":0.056,"g":10,"k":"e"},{"t":59354.32,"m":0.137,"g":10,"k":"e"},{"t":59354.37,"m":0.191,"g":10,"k":"e"},{"t":59354.41,"m":0.22,"g":10,"k":"e"},{"t":59354.46,"m":0.227,"g":10,"k":"e"},{"t":59354.53,"m":0.214,"g":10,"k":"e"},{"t":59354.58,"m":0.164,"g":10,"k":"e"},{"t":59354.64,"m":0.074,"g":10,"k":"e"},{"t":59354.74,"m":-0.007,"g":10,"k":"e"},
{"t":59354.74,"m":-0.007,"g":11,"k":"o"},{"t":59354.9,"m":-0.009,"g":11,"k":"o"},{"t":59355.07,"m":-0.014,"g":11,"k":"o"},{"t":59355.23,"m":-0.021,"g":11,"k":"o"},{"t":59355.42,"m":-0.018,"g":11,"k":"o"},{"t":59355.6,"m":-0.014,"g":11,"k":"o"},{"t":59355.79,"m":-0.021,"g":11,"k":"o"},{"t":59355.98,"m":-0.025,"g":11,"k":"o"},{"t":59356.16,"m":-0.018,"g":11,"k":"o"},{"t":59356.35,"m":-0.018,"g":11,"k":"o"},{"t":59356.53,"m":-0.021,"g":11,"k":"o"},{"t":59356.65,"m":-0.025,"g":11,"k":"o"},{"t":59356.78,"m":-0.018,"g":11,"k":"o"},{"t":59356.96,"m":-0.014,"g":11,"k":"o"},{"t":59357.15,"m":-0.014,"g":11,"k":"o"},{"t":59357.33,"m":-0.016,"g":11,"k":"o"},{"t":59357.52,"m":-0.021,"g":11,"k":"o"},{"t":59357.7,"m":-0.014,"g":11,"k":"o"},{"t":59357.89,"m":-0.018,"g":11,"k":"o"},{"t":59358.07,"m":-0.018,"g":11,"k":"o"},{"t":59358.2,"m":-0.012,"g":11,"k":"o"},{"t":59358.28,"m":0.006,"g":11,"k":"o"},{"t":59358.36,"m":0.056,"g":11,"k":"o"},{"t":59358.42,"m":0.101,"g":11,"k":"o"},{"t":59358.48,"m":0.139,"g":11,"k":"o"},{"t":59358.54,"m":0.164,"g":11,"k":"o"},{"t":59358.6,"m":0.175,"g":11,"k":"o"},{"t":59358.69,"m":0.155,"g":11,"k":"o"},{"t":59358.77,"m":0.101,"g":11,"k":"o"},{"t":59358.84,"m":0.047,"g":11,"k":"o"},{"t":59358.94,"m":-0.005,"g":11,"k":"o"},{"t":59359.06,"m":-0.009,"g":11,"k":"o"},{"t":59359.25,"m":-0.014,"g":11,"k":"o"},{"t":59359.43,"m":-0.021,"g":11,"k":"o"},{"t":59359.62,"m":-0.023,"g":11,"k":"o"},{"t":59359.8,"m":-0.027,"g":11,"k":"o"},{"t":59359.99,"m":-0.032,"g":11,"k":"o"},{"t":59360.14,"m":-0.03,"g":11,"k":"o"},{"t":59360.3,"m":-0.016,"g":11,"k":"o"},{"t":59360.48,"m":-0.002,"g":11,"k":"o"}
],
"p4":[
{"t":59307.3,"m":-0.013,"g":1,"k":"o"},{"t":59307.6,"m":-0.015,"g":1,"k":"o"},{"t":59307.9,"m":-0.01,"g":1,"k":"o"},{"t":59308.02,"m":-0.004,"g":1,"k":"o"},
{"t":59308.02,"m":-0.004,"g":2,"k":"e"},{"t":59308.16,"m":0.41,"g":2,"k":"e"},{"t":59308.18,"m":0.451,"g":2,"k":"e"},{"t":59308.2,"m":0.41,"g":2,"k":"e"},{"t":59308.34,"m":0.0,"g":2,"k":"e"},
{"t":59308.34,"m":0.0,"g":3,"k":"o"},{"t":59308.4,"m":-0.006,"g":3,"k":"o"},{"t":59308.52,"m":-0.018,"g":3,"k":"o"},{"t":59308.68,"m":-0.027,"g":3,"k":"o"},{"t":59308.84,"m":-0.018,"g":3,"k":"o"},{"t":59308.96,"m":-0.006,"g":3,"k":"o"},{"t":59309.02,"m":0.002,"g":3,"k":"o"},
{"t":59309.02,"m":0.002,"g":4,"k":"e"},{"t":59309.15,"m":0.45,"g":4,"k":"e"},{"t":59309.17,"m":0.49,"g":4,"k":"e"},{"t":59309.19,"m":0.45,"g":4,"k":"e"},{"t":59309.32,"m":-0.004,"g":4,"k":"e"},
{"t":59309.32,"m":-0.004,"g":5,"k":"o"},{"t":59309.4,"m":-0.01,"g":5,"k":"o"},{"t":59309.65,"m":-0.015,"g":5,"k":"o"},{"t":59309.9,"m":-0.016,"g":5,"k":"o"},{"t":59310.15,"m":-0.014,"g":5,"k":"o"},{"t":59310.37,"m":-0.009,"g":5,"k":"o"},{"t":59310.45,"m":-0.004,"g":5,"k":"o"},
{"t":59310.45,"m":-0.004,"g":6,"k":"e"},{"t":59310.59,"m":0.41,"g":6,"k":"e"},{"t":59310.61,"m":0.451,"g":6,"k":"e"},{"t":59310.63,"m":0.41,"g":6,"k":"e"},{"t":59310.77,"m":0.0,"g":6,"k":"e"},
{"t":59310.77,"m":0.0,"g":7,"k":"o"},{"t":59310.83,"m":-0.006,"g":7,"k":"o"},{"t":59310.95,"m":-0.018,"g":7,"k":"o"},{"t":59311.11,"m":-0.027,"g":7,"k":"o"},{"t":59311.27,"m":-0.018,"g":7,"k":"o"},{"t":59311.39,"m":-0.006,"g":7,"k":"o"},{"t":59311.46,"m":0.002,"g":7,"k":"o"},
{"t":59311.46,"m":0.002,"g":8,"k":"e"},{"t":59311.59,"m":0.45,"g":8,"k":"e"},{"t":59311.61,"m":0.49,"g":8,"k":"e"},{"t":59311.63,"m":0.45,"g":8,"k":"e"},{"t":59311.76,"m":-0.004,"g":8,"k":"e"},
{"t":59311.76,"m":-0.004,"g":9,"k":"o"},{"t":59311.84,"m":-0.01,"g":9,"k":"o"},{"t":59312.09,"m":-0.015,"g":9,"k":"o"},{"t":59312.34,"m":-0.016,"g":9,"k":"o"},{"t":59312.59,"m":-0.014,"g":9,"k":"o"},{"t":59312.81,"m":-0.009,"g":9,"k":"o"},{"t":59312.89,"m":-0.004,"g":9,"k":"o"},
{"t":59312.89,"m":-0.004,"g":10,"k":"e"},{"t":59313.03,"m":0.4,"g":10,"k":"e"},{"t":59313.05,"m":0.44,"g":10,"k":"e"},{"t":59313.07,"m":0.4,"g":10,"k":"e"},{"t":59313.21,"m":0.0,"g":10,"k":"e"},
{"t":59313.21,"m":0.0,"g":11,"k":"o"},{"t":59313.27,"m":-0.006,"g":11,"k":"o"},{"t":59313.39,"m":-0.018,"g":11,"k":"o"},{"t":59313.55,"m":-0.027,"g":11,"k":"o"},{"t":59313.71,"m":-0.018,"g":11,"k":"o"},{"t":59313.83,"m":-0.006,"g":11,"k":"o"},{"t":59313.9,"m":0.002,"g":11,"k":"o"},
{"t":59313.9,"m":0.002,"g":12,"k":"e"},{"t":59314.03,"m":0.45,"g":12,"k":"e"},{"t":59314.05,"m":0.49,"g":12,"k":"e"},{"t":59314.07,"m":0.45,"g":12,"k":"e"},{"t":59314.2,"m":-0.004,"g":12,"k":"e"},
{"t":59314.2,"m":-0.004,"g":13,"k":"o"},{"t":59314.28,"m":-0.01,"g":13,"k":"o"},{"t":59314.53,"m":-0.015,"g":13,"k":"o"},{"t":59314.78,"m":-0.016,"g":13,"k":"o"},{"t":59315.03,"m":-0.014,"g":13,"k":"o"},{"t":59315.22,"m":-0.009,"g":13,"k":"o"},{"t":59315.3,"m":-0.004,"g":13,"k":"o"},
{"t":59315.3,"m":-0.004,"g":14,"k":"e"},{"t":59315.44,"m":0.41,"g":14,"k":"e"},{"t":59315.46,"m":0.451,"g":14,"k":"e"},{"t":59315.48,"m":0.41,"g":14,"k":"e"},{"t":59315.62,"m":0.0,"g":14,"k":"e"},
{"t":59315.62,"m":0.0,"g":15,"k":"o"},{"t":59315.68,"m":-0.006,"g":15,"k":"o"},{"t":59315.8,"m":-0.018,"g":15,"k":"o"},{"t":59315.96,"m":-0.027,"g":15,"k":"o"},{"t":59316.12,"m":-0.018,"g":15,"k":"o"},{"t":59316.24,"m":-0.006,"g":15,"k":"o"},{"t":59316.31,"m":0.002,"g":15,"k":"o"},
{"t":59316.31,"m":0.002,"g":16,"k":"e"},{"t":59316.44,"m":0.45,"g":16,"k":"e"},{"t":59316.46,"m":0.49,"g":16,"k":"e"},{"t":59316.48,"m":0.45,"g":16,"k":"e"},{"t":59316.61,"m":-0.004,"g":16,"k":"e"},
{"t":59316.61,"m":-0.004,"g":17,"k":"o"},{"t":59316.69,"m":-0.01,"g":17,"k":"o"},{"t":59316.94,"m":-0.015,"g":17,"k":"o"},{"t":59317.19,"m":-0.016,"g":17,"k":"o"},{"t":59317.44,"m":-0.014,"g":17,"k":"o"},{"t":59317.63,"m":-0.009,"g":17,"k":"o"},{"t":59317.71,"m":-0.004,"g":17,"k":"o"},
{"t":59317.71,"m":-0.004,"g":18,"k":"e"},{"t":59317.85,"m":0.41,"g":18,"k":"e"},{"t":59317.87,"m":0.451,"g":18,"k":"e"},{"t":59317.89,"m":0.41,"g":18,"k":"e"},{"t":59318.03,"m":0.0,"g":18,"k":"e"},
{"t":59318.03,"m":0.0,"g":19,"k":"o"},{"t":59318.09,"m":-0.006,"g":19,"k":"o"},{"t":59318.21,"m":-0.018,"g":19,"k":"o"},{"t":59318.38,"m":-0.027,"g":19,"k":"o"},{"t":59318.55,"m":-0.018,"g":19,"k":"o"},{"t":59318.67,"m":-0.006,"g":19,"k":"o"},{"t":59318.74,"m":0.002,"g":19,"k":"o"},
{"t":59318.74,"m":0.002,"g":20,"k":"e"},{"t":59318.87,"m":0.45,"g":20,"k":"e"},{"t":59318.89,"m":0.49,"g":20,"k":"e"},{"t":59318.91,"m":0.45,"g":20,"k":"e"},{"t":59319.03,"m":0.005,"g":20,"k":"e"},
{"t":59320.23,"m":0.232,"g":21,"k":"e"},{"t":59320.27,"m":0.41,"g":21,"k":"e"},{"t":59320.29,"m":0.451,"g":21,"k":"e"},{"t":59320.31,"m":0.41,"g":21,"k":"e"},{"t":59320.45,"m":0.0,"g":21,"k":"e"},
{"t":59320.45,"m":0.0,"g":22,"k":"o"},{"t":59320.51,"m":-0.006,"g":22,"k":"o"},{"t":59320.63,"m":-0.018,"g":22,"k":"o"},{"t":59320.8,"m":-0.027,"g":22,"k":"o"},{"t":59320.97,"m":-0.018,"g":22,"k":"o"},{"t":59321.09,"m":-0.006,"g":22,"k":"o"},{"t":59321.15,"m":0.002,"g":22,"k":"o"},
{"t":59321.15,"m":0.002,"g":23,"k":"e"},{"t":59321.28,"m":0.45,"g":23,"k":"e"},{"t":59321.3,"m":0.49,"g":23,"k":"e"},{"t":59321.32,"m":0.45,"g":23,"k":"e"},{"t":59321.45,"m":-0.004,"g":23,"k":"e"},
{"t":59321.45,"m":-0.004,"g":24,"k":"o"},{"t":59321.53,"m":-0.01,"g":24,"k":"o"},{"t":59321.78,"m":-0.015,"g":24,"k":"o"},{"t":59322.03,"m":-0.016,"g":24,"k":"o"},{"t":59322.28,"m":-0.014,"g":24,"k":"o"},{"t":59322.5,"m":-0.009,"g":24,"k":"o"},{"t":59322.58,"m":-0.004,"g":24,"k":"o"},
{"t":59322.58,"m":-0.004,"g":25,"k":"e"},{"t":59322.72,"m":0.41,"g":25,"k":"e"},{"t":59322.74,"m":0.451,"g":25,"k":"e"},{"t":59322.76,"m":0.41,"g":25,"k":"e"},{"t":59322.9,"m":0.0,"g":25,"k":"e"},
{"t":59322.9,"m":0.0,"g":26,"k":"o"},{"t":59322.96,"m":-0.006,"g":26,"k":"o"},{"t":59323.08,"m":-0.018,"g":26,"k":"o"},{"t":59323.24,"m":-0.027,"g":26,"k":"o"},{"t":59323.4,"m":-0.018,"g":26,"k":"o"},{"t":59323.52,"m":-0.006,"g":26,"k":"o"},{"t":59323.59,"m":0.002,"g":26,"k":"o"},
{"t":59323.59,"m":0.002,"g":27,"k":"e"},{"t":59323.72,"m":0.45,"g":27,"k":"e"},{"t":59323.74,"m":0.49,"g":27,"k":"e"},{"t":59323.76,"m":0.45,"g":27,"k":"e"},{"t":59323.89,"m":-0.004,"g":27,"k":"e"},
{"t":59323.89,"m":-0.004,"g":28,"k":"o"},{"t":59323.97,"m":-0.01,"g":28,"k":"o"},{"t":59324.22,"m":-0.015,"g":28,"k":"o"},{"t":59324.47,"m":-0.016,"g":28,"k":"o"},{"t":59324.72,"m":-0.014,"g":28,"k":"o"},{"t":59324.91,"m":-0.009,"g":28,"k":"o"},{"t":59324.99,"m":-0.004,"g":28,"k":"o"},
{"t":59324.99,"m":-0.004,"g":29,"k":"e"},{"t":59325.13,"m":0.41,"g":29,"k":"e"},{"t":59325.15,"m":0.451,"g":29,"k":"e"},{"t":59325.17,"m":0.41,"g":29,"k":"e"},{"t":59325.31,"m":0.0,"g":29,"k":"e"},
{"t":59325.31,"m":0.0,"g":30,"k":"o"},{"t":59325.37,"m":-0.006,"g":30,"k":"o"},{"t":59325.49,"m":-0.018,"g":30,"k":"o"},{"t":59325.65,"m":-0.027,"g":30,"k":"o"},{"t":59325.81,"m":-0.018,"g":30,"k":"o"},{"t":59325.93,"m":-0.006,"g":30,"k":"o"},{"t":59326.0,"m":0.002,"g":30,"k":"o"},
{"t":59326.0,"m":0.002,"g":31,"k":"e"},{"t":59326.13,"m":0.45,"g":31,"k":"e"},{"t":59326.15,"m":0.49,"g":31,"k":"e"},{"t":59326.17,"m":0.45,"g":31,"k":"e"},{"t":59326.3,"m":-0.004,"g":31,"k":"e"},
{"t":59326.3,"m":-0.004,"g":32,"k":"o"},{"t":59326.38,"m":-0.01,"g":32,"k":"o"},{"t":59326.63,"m":-0.015,"g":32,"k":"o"},{"t":59326.88,"m":-0.016,"g":32,"k":"o"},{"t":59327.13,"m":-0.014,"g":32,"k":"o"},{"t":59327.35,"m":-0.009,"g":32,"k":"o"},{"t":59327.43,"m":-0.004,"g":32,"k":"o"},
{"t":59327.43,"m":-0.004,"g":33,"k":"e"},{"t":59327.57,"m":0.41,"g":33,"k":"e"},{"t":59327.59,"m":0.451,"g":33,"k":"e"},{"t":59327.61,"m":0.41,"g":33,"k":"e"},{"t":59327.75,"m":0.0,"g":33,"k":"e"},
{"t":59327.75,"m":0.0,"g":34,"k":"o"},{"t":59327.81,"m":-0.006,"g":34,"k":"o"},{"t":59327.93,"m":-0.018,"g":34,"k":"o"},{"t":59328.09,"m":-0.027,"g":34,"k":"o"},{"t":59328.25,"m":-0.018,"g":34,"k":"o"},{"t":59328.37,"m":-0.006,"g":34,"k":"o"},{"t":59328.44,"m":0.002,"g":34,"k":"o"},
{"t":59328.44,"m":0.002,"g":35,"k":"e"},{"t":59328.57,"m":0.45,"g":35,"k":"e"},{"t":59328.59,"m":0.49,"g":35,"k":"e"},{"t":59328.61,"m":0.45,"g":35,"k":"e"},{"t":59328.74,"m":-0.004,"g":35,"k":"e"},
{"t":59328.74,"m":-0.004,"g":36,"k":"o"},{"t":59328.82,"m":-0.01,"g":36,"k":"o"},{"t":59329.07,"m":-0.015,"g":36,"k":"o"},{"t":59329.32,"m":-0.016,"g":36,"k":"o"},{"t":59329.57,"m":-0.014,"g":36,"k":"o"},{"t":59329.76,"m":-0.009,"g":36,"k":"o"},{"t":59329.84,"m":-0.004,"g":36,"k":"o"},
{"t":59329.84,"m":-0.004,"g":37,"k":"e"},{"t":59329.98,"m":0.41,"g":37,"k":"e"},{"t":59330.0,"m":0.451,"g":37,"k":"e"},{"t":59330.02,"m":0.41,"g":37,"k":"e"},{"t":59330.16,"m":0.0,"g":37,"k":"e"},
{"t":59330.16,"m":0.0,"g":38,"k":"o"},{"t":59330.22,"m":-0.006,"g":38,"k":"o"},{"t":59330.34,"m":-0.018,"g":38,"k":"o"},{"t":59330.51,"m":-0.027,"g":38,"k":"o"},{"t":59330.68,"m":-0.018,"g":38,"k":"o"},{"t":59330.8,"m":-0.006,"g":38,"k":"o"},{"t":59330.86,"m":0.002,"g":38,"k":"o"},
{"t":59330.86,"m":0.002,"g":39,"k":"e"},{"t":59330.99,"m":0.45,"g":39,"k":"e"},{"t":59331.01,"m":0.49,"g":39,"k":"e"},{"t":59331.03,"m":0.45,"g":39,"k":"e"},{"t":59331.16,"m":-0.004,"g":39,"k":"e"},
{"t":59331.16,"m":-0.004,"g":40,"k":"o"},{"t":59331.24,"m":-0.01,"g":40,"k":"o"},{"t":59331.49,"m":-0.015,"g":40,"k":"o"},{"t":59331.74,"m":-0.016,"g":40,"k":"o"},{"t":59331.99,"m":-0.014,"g":40,"k":"o"},{"t":59332.21,"m":-0.009,"g":40,"k":"o"},{"t":59332.29,"m":-0.004,"g":40,"k":"o"},
{"t":59332.29,"m":-0.004,"g":41,"k":"e"},{"t":59332.43,"m":0.41,"g":41,"k":"e"},{"t":59332.45,"m":0.451,"g":41,"k":"e"},{"t":59332.47,"m":0.41,"g":41,"k":"e"},{"t":59332.6,"m":0.0,"g":41,"k":"e"}
]
},
"vconcat":[
{
 "width":751,"height":121,
 "layer":[
  {"data":{"name":"p1"},
   "mark":{"type":"line","color":"#ff0000","strokeWidth":2.2,"interpolate":"monotone"},
   "encoding":{
    "x":{"field":"t","type":"quantitative","scale":{"domain":[59361.02,59390.35],"nice":false,"zero":false},
     "axis":{"orient":"bottom","title":null,"values":[59362,59363,59364,59365,59366,59367,59368,59369,59370,59371,59372,59373,59374,59375,59376,59377,59378,59379,59380,59381,59382,59383,59384,59385,59386,59387,59388,59389,59390],"format":"d","labelExpr":"datum.value % 5 === 0 ? datum.label : ''","labelFontSize":{"condition":{"test":"datum.value % 5 === 0","value":14.5},"value":0},"tickSize":{"condition":{"test":"datum.value % 5 === 0","value":-5},"value":-3}}},
    "y":{"field":"m","type":"quantitative","scale":{"domain":[-0.1,0.3],"reverse":true,"nice":false,"zero":false},
     "axis":{"orient":"left","title":"Magnitude","titleX":-50,"titleBaseline":"middle","labelFlush":3,"values":[-0.1,-0.09,-0.08,-0.07,-0.06,-0.05,-0.04,-0.03,-0.02,-0.01,0,0.01,0.02,0.03,0.04,0.05,0.06,0.07,0.08,0.09,0.1,0.11,0.12,0.13,0.14,0.15,0.16,0.17,0.18,0.19,0.2,0.21,0.22,0.23,0.24,0.25,0.26,0.27,0.28,0.29,0.3],"format":".1f","labelExpr":"abs(round(datum.value*100)) % 10 === 0 ? datum.label : ''","labelFontSize":{"condition":{"test":"abs(round(datum.value*100)) % 10 === 0","value":13.5},"value":0},"tickSize":{"condition":{"test":"abs(round(datum.value*100)) % 10 === 0","value":-5},"value":-3}}},
    "detail":{"field":"g","type":"nominal"},
    "strokeDash":{"field":"k","type":"nominal","scale":{"domain":["o","e"],"range":[[1,0],[2,1.5]]},"legend":null}
   }},
  {"data":{"values":[{"t":59375.2,"m":0.2465,"s":"V1034\u00a0 Sco"}]},
   "mark":{"type":"text","font":"Liberation Sans","fontSize":14,"color":"#000","align":"center","baseline":"middle"},
   "encoding":{
    "x":{"field":"t","type":"quantitative","scale":{"domain":[59361.02,59390.35],"nice":false,"zero":false},
     "axis":{"orient":"top","title":null,"labels":false,"values":[59362,59363,59364,59365,59366,59367,59368,59369,59370,59371,59372,59373,59374,59375,59376,59377,59378,59379,59380,59381,59382,59383,59384,59385,59386,59387,59388,59389,59390],"tickSize":{"condition":{"test":"datum.value % 5 === 0","value":-5},"value":-3}}},
    "y":{"field":"m","type":"quantitative","scale":{"domain":[-0.1,0.3],"reverse":true,"nice":false,"zero":false},
     "axis":{"orient":"right","title":null,"labels":false,"values":[-0.1,-0.09,-0.08,-0.07,-0.06,-0.05,-0.04,-0.03,-0.02,-0.01,0,0.01,0.02,0.03,0.04,0.05,0.06,0.07,0.08,0.09,0.1,0.11,0.12,0.13,0.14,0.15,0.16,0.17,0.18,0.19,0.2,0.21,0.22,0.23,0.24,0.25,0.26,0.27,0.28,0.29,0.3],"tickSize":{"condition":{"test":"abs(round(datum.value*100)) % 10 === 0","value":-5},"value":-3}}},
    "text":{"field":"s","type":"nominal"}
   }}
 ]
},
{
 "width":751,"height":121,
 "layer":[
  {"data":{"name":"p2"},
   "mark":{"type":"line","color":"#ff0000","strokeWidth":2.2,"interpolate":"monotone"},
   "encoding":{
    "x":{"field":"t","type":"quantitative","scale":{"domain":[59307.0,59332.9],"nice":false,"zero":false},
     "axis":{"orient":"bottom","title":null,"values":[59308,59309,59310,59311,59312,59313,59314,59315,59316,59317,59318,59319,59320,59321,59322,59323,59324,59325,59326,59327,59328,59329,59330,59331,59332],"format":"d","labelExpr":"datum.value % 5 === 0 ? datum.label : ''","labelFontSize":{"condition":{"test":"datum.value % 5 === 0","value":14.5},"value":0},"tickSize":{"condition":{"test":"datum.value % 5 === 0","value":-5},"value":-3}}},
    "y":{"field":"m","type":"quantitative","scale":{"domain":[-0.074,0.25],"reverse":true,"nice":false,"zero":false},
     "axis":{"orient":"left","title":"Magnitude","titleX":-50,"titleBaseline":"middle","labelFlush":3,"values":[-0.07,-0.06,-0.05,-0.04,-0.03,-0.02,-0.01,0,0.01,0.02,0.03,0.04,0.05,0.06,0.07,0.08,0.09,0.1,0.11,0.12,0.13,0.14,0.15,0.16,0.17,0.18,0.19,0.2,0.21,0.22,0.23,0.24,0.25],"format":".2f","labelExpr":"abs(round(datum.value*100)) % 5 === 0 ? datum.label : ''","labelFontSize":{"condition":{"test":"abs(round(datum.value*100)) % 5 === 0","value":13},"value":0},"tickSize":{"condition":{"test":"abs(round(datum.value*100)) % 5 === 0","value":-5},"value":-3}}},
    "detail":{"field":"g","type":"nominal"},
    "strokeDash":{"field":"k","type":"nominal","scale":{"domain":["o","e"],"range":[[1,0],[2,1.5]]},"legend":null}
   }},
  {"data":{"values":[{"t":59318.79,"m":0.211,"s":"V346\u00a0 Cen"},{"t":59331.64,"m":0.211,"s":"Sector\u00a0 37"}]},
   "mark":{"type":"text","font":"Liberation Sans","fontSize":14,"color":"#000","align":"center","baseline":"middle"},
   "encoding":{
    "x":{"field":"t","type":"quantitative","scale":{"domain":[59307.0,59332.9],"nice":false,"zero":false},
     "axis":{"orient":"top","title":null,"labels":false,"values":[59308,59309,59310,59311,59312,59313,59314,59315,59316,59317,59318,59319,59320,59321,59322,59323,59324,59325,59326,59327,59328,59329,59330,59331,59332],"tickSize":{"condition":{"test":"datum.value % 5 === 0","value":-5},"value":-3}}},
    "y":{"field":"m","type":"quantitative","scale":{"domain":[-0.074,0.25],"reverse":true,"nice":false,"zero":false},
     "axis":{"orient":"right","title":null,"labels":false,"values":[-0.07,-0.06,-0.05,-0.04,-0.03,-0.02,-0.01,0,0.01,0.02,0.03,0.04,0.05,0.06,0.07,0.08,0.09,0.1,0.11,0.12,0.13,0.14,0.15,0.16,0.17,0.18,0.19,0.2,0.21,0.22,0.23,0.24,0.25],"tickSize":{"condition":{"test":"abs(round(datum.value*100)) % 5 === 0","value":-5},"value":-3}}},
    "text":{"field":"s","type":"nominal"}
   }}
 ]
},
{
 "width":751,"height":121,
 "layer":[
  {"data":{"name":"p3"},
   "mark":{"type":"line","color":"#ff0000","strokeWidth":2.2,"interpolate":"monotone"},
   "encoding":{
    "x":{"field":"t","type":"quantitative","scale":{"domain":[59333.0,59360.81],"nice":false,"zero":false},
     "axis":{"orient":"bottom","title":null,"values":[59334,59335,59336,59337,59338,59339,59340,59341,59342,59343,59344,59345,59346,59347,59348,59349,59350,59351,59352,59353,59354,59355,59356,59357,59358,59359,59360],"format":"d","labelExpr":"datum.value % 5 === 0 ? datum.label : ''","labelFontSize":{"condition":{"test":"datum.value % 5 === 0","value":14.5},"value":0},"tickSize":{"condition":{"test":"datum.value % 5 === 0","value":-5},"value":-3}}},
    "y":{"field":"m","type":"quantitative","scale":{"domain":[-0.073,0.254],"reverse":true,"nice":false,"zero":false},
     "axis":{"orient":"left","title":"Magnitude","titleX":-50,"titleBaseline":"middle","labelFlush":3,"values":[-0.07,-0.06,-0.05,-0.04,-0.03,-0.02,-0.01,0,0.01,0.02,0.03,0.04,0.05,0.06,0.07,0.08,0.09,0.1,0.11,0.12,0.13,0.14,0.15,0.16,0.17,0.18,0.19,0.2,0.21,0.22,0.23,0.24,0.25],"format":".2f","labelExpr":"abs(round(datum.value*100)) % 5 === 0 ? datum.label : ''","labelFontSize":{"condition":{"test":"abs(round(datum.value*100)) % 5 === 0","value":13},"value":0},"tickSize":{"condition":{"test":"abs(round(datum.value*100)) % 5 === 0","value":-5},"value":-3}}},
    "detail":{"field":"g","type":"nominal"},
    "strokeDash":{"field":"k","type":"nominal","scale":{"domain":["o","e"],"range":[[1,0],[2,1.5]]},"legend":null}
   }},
  {"data":{"values":[{"t":59344.13,"m":0.216,"s":"V346\u00a0 Cen"},{"t":59359.37,"m":0.214,"s":"Sector\u00a0 38"}]},
   "mark":{"type":"text","font":"Liberation Sans","fontSize":14,"color":"#000","align":"center","baseline":"middle"},
   "encoding":{
    "x":{"field":"t","type":"quantitative","scale":{"domain":[59333.0,59360.81],"nice":false,"zero":false},
     "axis":{"orient":"top","title":null,"labels":false,"values":[59334,59335,59336,59337,59338,59339,59340,59341,59342,59343,59344,59345,59346,59347,59348,59349,59350,59351,59352,59353,59354,59355,59356,59357,59358,59359,59360],"tickSize":{"condition":{"test":"datum.value % 5 === 0","value":-5},"value":-3}}},
    "y":{"field":"m","type":"quantitative","scale":{"domain":[-0.073,0.254],"reverse":true,"nice":false,"zero":false},
     "axis":{"orient":"right","title":null,"labels":false,"values":[-0.07,-0.06,-0.05,-0.04,-0.03,-0.02,-0.01,0,0.01,0.02,0.03,0.04,0.05,0.06,0.07,0.08,0.09,0.1,0.11,0.12,0.13,0.14,0.15,0.16,0.17,0.18,0.19,0.2,0.21,0.22,0.23,0.24,0.25],"tickSize":{"condition":{"test":"abs(round(datum.value*100)) % 5 === 0","value":-5},"value":-3}}},
    "text":{"field":"s","type":"nominal"}
   }}
 ]
},
{
 "width":751,"height":122,
 "layer":[
  {"data":{"name":"p4"},
   "mark":{"type":"line","color":"#ff0000","strokeWidth":2.2,"interpolate":"monotone"},
   "encoding":{
    "x":{"field":"t","type":"quantitative","scale":{"domain":[59307.0,59332.9],"nice":false,"zero":false},
     "axis":{"orient":"bottom","title":"Time (BJDᴛᴅʙ − 2400000)","titleY":25,"titleBaseline":"top","values":[59308,59309,59310,59311,59312,59313,59314,59315,59316,59317,59318,59319,59320,59321,59322,59323,59324,59325,59326,59327,59328,59329,59330,59331,59332],"format":"d","labelExpr":"datum.value % 5 === 0 ? datum.label : ''","labelFontSize":{"condition":{"test":"datum.value % 5 === 0","value":14.5},"value":0},"tickSize":{"condition":{"test":"datum.value % 5 === 0","value":-5},"value":-3}}},
    "y":{"field":"m","type":"quantitative","scale":{"domain":[-0.1,0.55],"reverse":true,"nice":false,"zero":false},
     "axis":{"orient":"left","title":"Magnitude","titleX":-50,"titleBaseline":"middle","labelFlush":3,"values":[-0.1,-0.09,-0.08,-0.07,-0.06,-0.05,-0.04,-0.03,-0.02,-0.01,0,0.01,0.02,0.03,0.04,0.05,0.06,0.07,0.08,0.09,0.1,0.11,0.12,0.13,0.14,0.15,0.16,0.17,0.18,0.19,0.2,0.21,0.22,0.23,0.24,0.25,0.26,0.27,0.28,0.29,0.3,0.31,0.32,0.33,0.34,0.35,0.36,0.37,0.38,0.39,0.4,0.41,0.42,0.43,0.44,0.45,0.46,0.47,0.48,0.49,0.5,0.51,0.52,0.53,0.54,0.55],"format":".1f","labelExpr":"abs(round(datum.value*100)) % 10 === 0 ? datum.label : ''","labelFontSize":{"condition":{"test":"abs(round(datum.value*100)) % 10 === 0","value":13},"value":0},"tickSize":{"condition":{"test":"abs(round(datum.value*100)) % 10 === 0","value":-5},"value":-3}}},
    "detail":{"field":"g","type":"nominal"},
    "strokeDash":{"field":"k","type":"nominal","scale":{"domain":["o","e"],"range":[[1,0],[2,3.5]]},"legend":null}
   }},
  {"data":{"values":[{"t":59319.03,"m":0.477,"s":"GL\u00a0\u00a0\u00a0 Car"}]},
   "mark":{"type":"text","font":"Liberation Sans","fontSize":14,"color":"#000","align":"center","baseline":"middle"},
   "encoding":{
    "x":{"field":"t","type":"quantitative","scale":{"domain":[59307.0,59332.9],"nice":false,"zero":false},
     "axis":{"orient":"top","title":null,"labels":false,"values":[59308,59309,59310,59311,59312,59313,59314,59315,59316,59317,59318,59319,59320,59321,59322,59323,59324,59325,59326,59327,59328,59329,59330,59331,59332],"tickSize":{"condition":{"test":"datum.value % 5 === 0","value":-5},"value":-3}}},
    "y":{"field":"m","type":"quantitative","scale":{"domain":[-0.1,0.55],"reverse":true,"nice":false,"zero":false},
     "axis":{"orient":"right","title":null,"labels":false,"values":[-0.1,-0.09,-0.08,-0.07,-0.06,-0.05,-0.04,-0.03,-0.02,-0.01,0,0.01,0.02,0.03,0.04,0.05,0.06,0.07,0.08,0.09,0.1,0.11,0.12,0.13,0.14,0.15,0.16,0.17,0.18,0.19,0.2,0.21,0.22,0.23,0.24,0.25,0.26,0.27,0.28,0.29,0.3,0.31,0.32,0.33,0.34,0.35,0.36,0.37,0.38,0.39,0.4,0.41,0.42,0.43,0.44,0.45,0.46,0.47,0.48,0.49,0.5,0.51,0.52,0.53,0.54,0.55],"tickSize":{"condition":{"test":"abs(round(datum.value*100)) % 10 === 0","value":-5},"value":-3}}},
    "text":{"field":"s","type":"nominal"}
   }}
 ]
}
]
}
